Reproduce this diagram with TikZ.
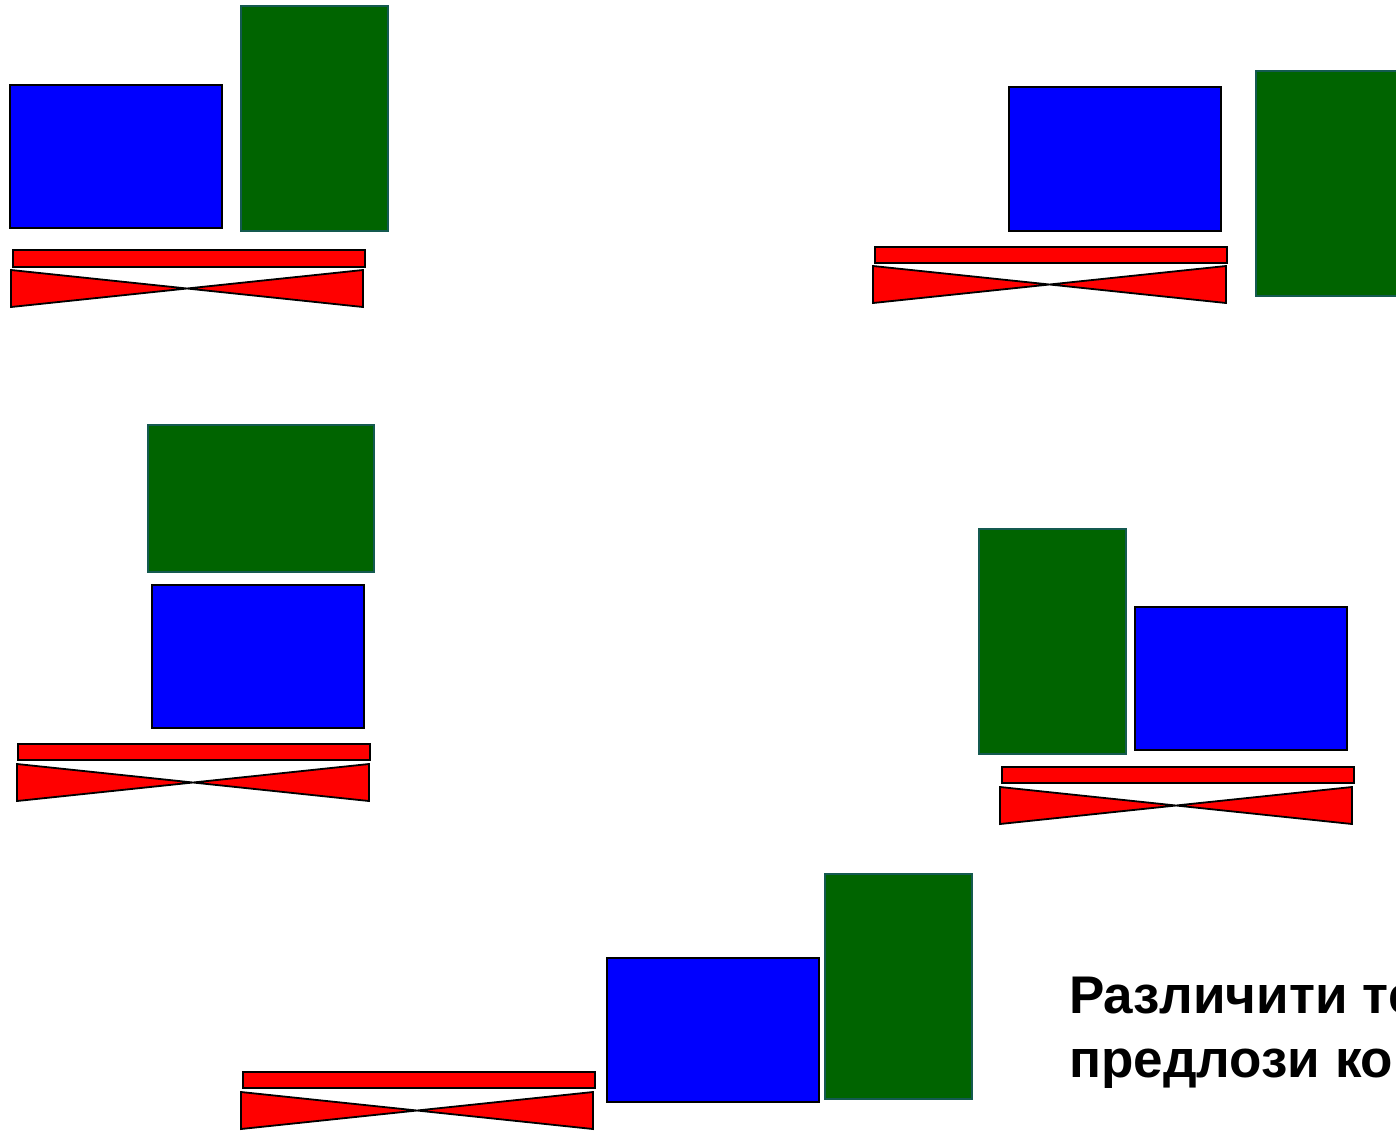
\documentclass[tikz,border=0pt]{standalone}
\usepackage{fontspec}
\setmainfont{Liberation Sans}
\begin{document}
\begin{tikzpicture}[x=1pt,y=-1pt,
  bluebox/.style={fill={rgb,255:red,0;green,0;blue,255},draw=black,line width=1.8pt},
  greenbox/.style={fill={rgb,255:red,0;green,100;blue,0},draw={rgb,255:red,20;green,90;blue,80},line width=1.2pt},
  redbar/.style={fill={rgb,255:red,255;green,0;blue,0},draw=black,line width=1.8pt,line join=miter},
  labeltext/.style={anchor=base west,inner sep=0pt,font=\fontsize{53}{64}\selectfont\bfseries}]
\useasboundingbox (0,0) rectangle (1396,1130);
\fill[white] (0,0) rectangle (1396,1130);
\clip (0,0) rectangle (1396,1130);
% group 1
\draw[bluebox] (10,85) rectangle (222,228);
\draw[greenbox] (241,6) rectangle (388,231);
\draw[redbar] (13,250) rectangle (365,267);
\draw[redbar] (11,270) -- (363,307) -- (363,270) -- (11,307) -- cycle;
% group 2
\draw[bluebox] (1009,87) rectangle (1221,231);
\draw[greenbox] (1256,71) rectangle (1403,296);
\draw[redbar] (875,247) rectangle (1227,263);
\draw[redbar] (873,266) -- (1226,303) -- (1226,266) -- (873,303) -- cycle;
% group 3
\draw[greenbox] (148,425) rectangle (374,572);
\draw[bluebox] (152,585) rectangle (364,728);
\draw[redbar] (18,744) rectangle (370,760);
\draw[redbar] (17,764) -- (369,801) -- (369,764) -- (17,801) -- cycle;
% group 4
\draw[greenbox] (979,529) rectangle (1126,754);
\draw[bluebox] (1135,607) rectangle (1347,750);
\draw[redbar] (1002,767) rectangle (1354,783);
\draw[redbar] (1000,787) -- (1352,824) -- (1352,787) -- (1000,824) -- cycle;
% group 5
\draw[redbar] (243,1072) rectangle (595,1088);
\draw[redbar] (241,1092) -- (593,1129) -- (593,1092) -- (241,1129) -- cycle;
\draw[bluebox] (607,958) rectangle (819,1102);
\draw[greenbox] (825,874) rectangle (972,1099);
% text (cut off at the right edge, as in the reference)
\node[labeltext] (t1) at (1069,1013) {Различити те};
\node[labeltext] (t2) at (1069,1077) {предлози ко};
\end{tikzpicture}
\end{document}
